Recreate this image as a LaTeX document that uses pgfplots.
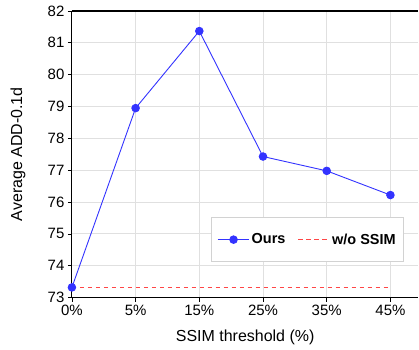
\documentclass[border=0pt]{standalone}
\usepackage{pgfplots}
\pgfplotsset{compat=1.18}
\usepackage{fontspec}
\setmainfont{Liberation Sans}
\definecolor{gridgray}{RGB}{224,224,224}
\definecolor{leggray}{RGB}{210,210,210}
\definecolor{ssimred}{RGB}{255,70,70}
\begin{document}
\begin{tikzpicture}
\begin{axis}[
  at={(0pt,0pt)}, anchor=south west,
  scale only axis, width=347pt, height=287pt,
  xmin=0, xmax=5.44, ymin=73, ymax=82,
  axis x line*=box, axis y line*=left,
  axis line style={-, black, line width=1.1pt},
  xtick={0,1,2,3,4,5},
  xticklabels={0\%,5\%,15\%,25\%,35\%,45\%},
  ytick={73,74,...,82},
  tick align=outside, tick pos=left,
  major tick length=4pt,
  tick style={black, line width=0.8pt},
  grid=major, grid style={gridgray, line width=0.9pt},
  /pgf/number format/assume math mode=true,
  ticklabel style={font=\fontsize{15}{17}\selectfont},
  label style={font=\fontsize{16}{18}\selectfont},
  xlabel={SSIM threshold (\%)},
  ylabel={Average ADD-0.1d},
  xlabel style={at={(axis description cs:0.5,0)}, anchor=center, yshift=-40pt},
  ylabel style={at={(axis description cs:0,0.5)}, anchor=center, yshift=54pt},
  legend style={at={(axis cs:3.70,74.82)}, anchor=center, legend columns=2,
    draw=leggray, line width=1.3pt, inner xsep=6pt, inner ysep=14pt,
    font=\fontsize{14.5}{16}\selectfont\bfseries,
    /tikz/every even column/.append style={column sep=10pt}},
  legend image code/.code={\draw[#1] (0cm,0cm) -- (1.1cm,0cm); \path[#1,mark repeat=2,mark phase=2] plot coordinates {(0cm,0cm) (0.55cm,0cm) (1.1cm,0cm)};},
]
\addplot[draw=blue!80!white, line width=0.9pt, mark=*, mark size=3.8pt, mark options={solid, draw=blue!80!white, fill=blue!80!white}]
  coordinates {(0,73.32) (1,78.95) (2,81.37) (3,77.43) (4,76.98) (5,76.22)};
\addlegendentry{Ours}
\addplot[draw=ssimred, line width=1.5pt, mark=none, dash pattern=on 4.6pt off 3.4pt]
  coordinates {(0,73.32) (5,73.32)};
\addlegendentry{w/o SSIM}
\end{axis}
\path[use as bounding box] (-72pt,-52pt) rectangle (347pt,298pt);
\end{tikzpicture}
\end{document}
